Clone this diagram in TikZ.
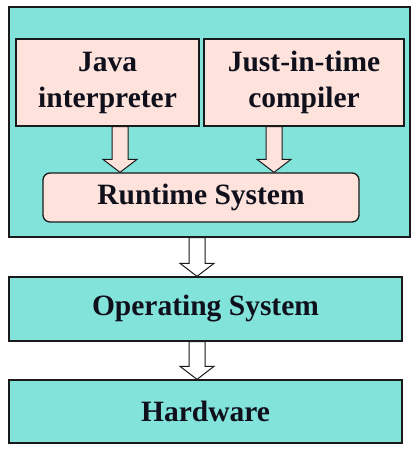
\documentclass[tikz,border=0pt]{standalone}
\usepackage{fontspec}
\setmainfont{Liberation Serif}
\usetikzlibrary{calc}
\definecolor{teal1}{HTML}{82E3DA}
\definecolor{pink1}{HTML}{FDE3DC}
\definecolor{edge1}{HTML}{1A1A1A}
\definecolor{txt1}{HTML}{10101C}
\newcommand\blockarr[3]{%
  \draw[#1] ($(#2)+(-8,0)$) -- ($(#3)+(-8,-13)$) -- ($(#3)+(-17,-13)$) -- (#3)
    -- ($(#3)+(17,-13)$) -- ($(#3)+(8,-13)$) -- ($(#2)+(8,0)$) -- cycle;}
\begin{document}
\begin{tikzpicture}[x=1pt,y=-1pt,
  box/.style={draw=edge1, line width=1.3pt, text=txt1, font=\fontsize{29.5}{36}\selectfont\bfseries,
    align=center, inner sep=0pt},
  tealbox/.style={box, fill=teal1},
  pinkbox/.style={box, fill=pink1},
  parr/.style={draw=edge1, line width=1pt, fill=pink1, line join=miter},
  warr/.style={draw=edge1, line width=1pt, fill=white, line join=miter}]
\useasboundingbox[fill=white] (0,0) rectangle (416,452);
\node[tealbox, minimum width=401pt, minimum height=230pt] (jvm) at (209.5,122) {};
\node[pinkbox, minimum width=183pt, minimum height=87pt] (java) at (107.5,82.5) {Java\\interpreter};
\node[pinkbox, minimum width=200pt, minimum height=87pt] (jit) at (304,82.5) {Just-in-time\\compiler};
\node[pinkbox, rounded corners=7pt, minimum width=316pt, minimum height=49pt] (rt) at (201,197.5) {Runtime System};
\node[tealbox, minimum width=393pt, minimum height=64pt] (os) at (205.5,309) {Operating System};
\node[tealbox, minimum width=393pt, minimum height=63pt] (hw) at (205.5,411.5) {Hardware};
\coordinate (c1) at (120,0);
\coordinate (c2) at (274,0);
\coordinate (c3) at (197,0);
\blockarr{parr}{java.south -| c1}{rt.north -| c1}
\blockarr{parr}{jit.south -| c2}{rt.north -| c2}
\blockarr{warr}{jvm.south -| c3}{os.north -| c3}
\blockarr{warr}{os.south -| c3}{hw.north -| c3}
\end{tikzpicture}
\end{document}
